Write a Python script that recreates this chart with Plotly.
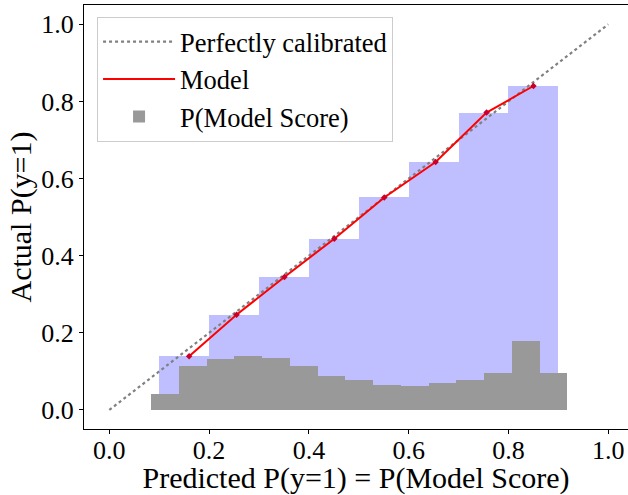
import numpy as np
import plotly.graph_objects as go

# Calibration curve (model)
prob_pred = [0.160, 0.255, 0.351, 0.451, 0.551, 0.654, 0.756, 0.850]
prob_true = [0.139, 0.247, 0.345, 0.444, 0.551, 0.643, 0.771, 0.840]

# Blue step bars: 10 equal bins, occupied from 0.1 to 0.9
bin_lefts = [0.1, 0.2, 0.3, 0.4, 0.5, 0.6, 0.7, 0.8]
bin_width = 0.1

# Score distribution histogram (normalized heights)
hist_range = [0.084, 0.918]
hist_heights = [0.042, 0.115, 0.133, 0.140, 0.135, 0.113, 0.089, 0.077,
                0.065, 0.062, 0.070, 0.078, 0.097, 0.179, 0.095]

# Perfect calibration diagonal
diag = [0.0, 1.0]

tick_vals = [0, 0.2, 0.4, 0.6, 0.8, 1.0]
tick_text = ["0.0", "0.2", "0.4", "0.6", "0.8", "1.0"]

edges = np.linspace(hist_range[0], hist_range[1], len(hist_heights) + 1)
hist_centers = (edges[:-1] + edges[1:]) / 2
hist_w = edges[1] - edges[0]

FONT = "Liberation Serif, Times New Roman, Times, serif"

fig = go.Figure()
fig.add_trace(go.Bar(
    x=[b + bin_width / 2 for b in bin_lefts], y=prob_true, width=bin_width,
    marker=dict(color="rgba(0,0,255,0.25)", line=dict(width=0)),
    showlegend=False, hoverinfo="skip"))
fig.add_trace(go.Bar(
    x=hist_centers, y=hist_heights, width=hist_w,
    marker=dict(color="#999999", line=dict(width=0)),
    name="P(Model Score)", legendrank=3))
fig.add_trace(go.Scatter(
    x=diag, y=diag, mode="lines",
    line=dict(color="gray", dash="dot", width=2.2),
    name="Perfectly calibrated", legendrank=1))
fig.add_trace(go.Scatter(
    x=prob_pred, y=prob_true, mode="lines",
    line=dict(color="red", width=2),
    name="Model", legendrank=2))
fig.add_trace(go.Scatter(
    x=prob_pred, y=prob_true, mode="markers",
    marker=dict(symbol="diamond", size=5, color="#c8002a"),
    showlegend=False))

fig.update_layout(
    width=628, height=495,
    margin=dict(l=84, r=0, t=5, b=66, autoexpand=False),
    paper_bgcolor="white", plot_bgcolor="white",
    barmode="overlay", bargap=0,
    font=dict(family=FONT, size=26, color="black"),
    legend=dict(
        x=0.024, y=0.972, xanchor="left", yanchor="top",
        bgcolor="rgba(255,255,255,0.8)", bordercolor="#cccccc", borderwidth=1,
        font=dict(family=FONT, size=26.5), itemwidth=72, traceorder="normal",
    ),
    xaxis=dict(
        range=[-0.0507, 1.0395], tickvals=tick_vals, ticktext=tick_text,
        showgrid=False, zeroline=False, showline=True, linecolor="black",
        linewidth=1, mirror=True, ticks="outside", ticklen=4, tickcolor="black",
        tickfont=dict(family=FONT, size=26), automargin=False,
        ticklabelstandoff=-6,
        title=dict(text="Predicted P(y=1) = P(Model Score)",
                   font=dict(family=FONT, size=30), standoff=2),
    ),
    yaxis=dict(
        range=[-0.0493, 1.0500], tickvals=tick_vals, ticktext=tick_text,
        showgrid=False, zeroline=False, showline=True, linecolor="black",
        linewidth=1, ticks="outside", ticklen=4, tickcolor="black",
        tickfont=dict(family=FONT, size=26), automargin=False,
        title=dict(text="Actual P(y=1)", font=dict(family=FONT, size=30), standoff=0),
    ),
)

fig.write_html("out.html", config={"displayModeBar": False},
               post_script="document.body.style.margin='0';document.body.style.overflow='hidden';")
